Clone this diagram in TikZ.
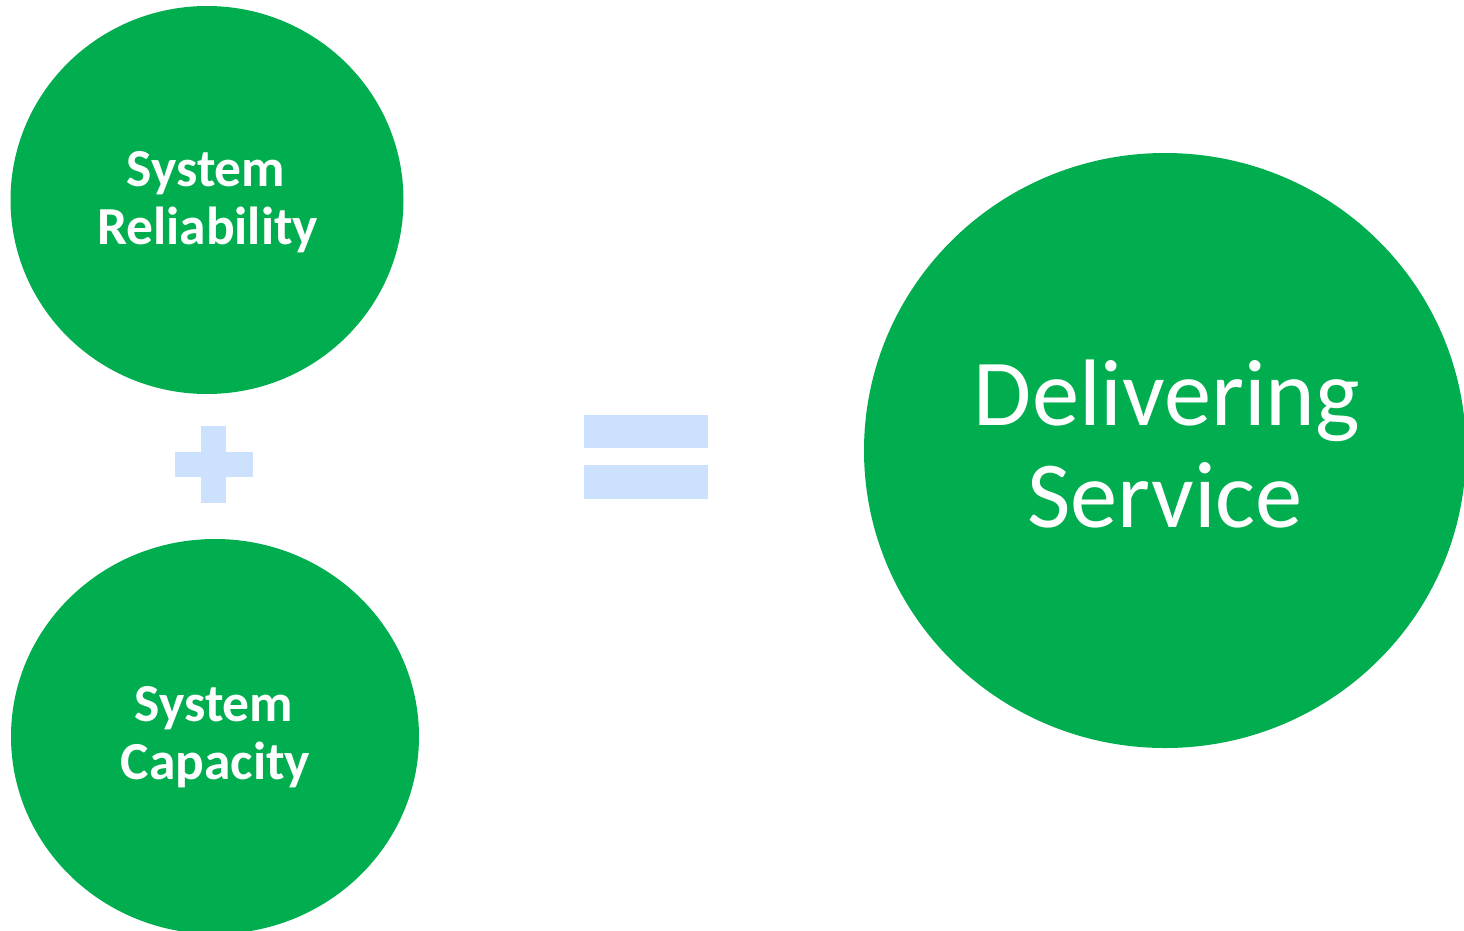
\documentclass[tikz,border=0pt]{standalone}
\usepackage{fontspec}
\setmainfont{Carlito}
\definecolor{cgreen}{HTML}{00AE4F}
\definecolor{cblue}{HTML}{CCE1FD}
\begin{document}
\begin{tikzpicture}[x=1pt,y=-1pt,
  blob/.style={fill=cgreen,draw=none},
  bar/.style={fill=cblue,draw=none},
  small/.style={text=white,anchor=base,inner sep=0pt,font=\fontsize{53.5}{58}\selectfont\bfseries},
  big/.style={text=white,anchor=base,inner sep=0pt,font=\fontsize{94.5}{102}\selectfont}]
\useasboundingbox (0,0) rectangle (1464,930);
\clip (0,0) rectangle (1464,930);
\fill[white] (0,0) rectangle (1464,930);
% circles
\fill[blob] (207,200) ellipse [x radius=196.5, y radius=194];
\fill[blob] (215,736.5) ellipse [x radius=204, y radius=197.5];
\fill[blob] (1165,450.5) ellipse [x radius=301, y radius=297.5];
% plus
\fill[bar] (201,426) rectangle (226,503);
\fill[bar] (175,452) rectangle (253,477);
% equals
\fill[bar] (584,415) rectangle (708,448);
\fill[bar] (584,465) rectangle (708,498.5);
% texts
\node[small] (r1) at (206,186.5) {System};
\node[small] (r2) at (207.5,244) {Reliability};
\node[small] (c1) at (214,721.5) {System};
\node[small] (c2) at (215.5,779) {Capacity};
\node[big] (d1) at (1167,425) {Delivering};
\node[big] (d2) at (1165,527.5) {Service};
\end{tikzpicture}
\end{document}
